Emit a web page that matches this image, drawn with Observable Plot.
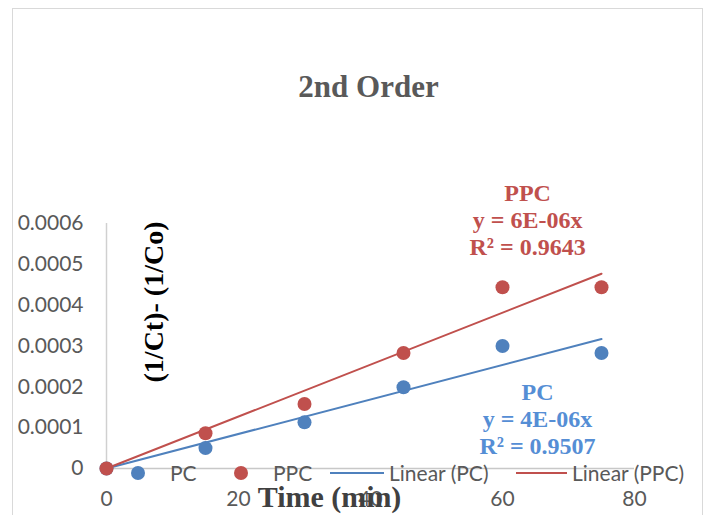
<!DOCTYPE html>
<html>
<head>
<meta charset="utf-8">
<script src="https://cdn.jsdelivr.net/npm/d3@7"></script>
<script src="https://cdn.jsdelivr.net/npm/@observablehq/plot@0.6"></script>
<style>
html, body { margin: 0; padding: 0; background: #fff; overflow: hidden; }
#wrap { position: relative; width: 708px; height: 515px; overflow: hidden; }
#border { position: absolute; left: 12px; top: 8px; width: 691px; height: 600px; border: 1.5px solid #d9d9d9; box-sizing: border-box; pointer-events: none; }
#chart { position: absolute; left: 0; top: 0; }
.leg { position: absolute; font-family: Lato, "Open Sans", sans-serif; font-size: 21px; color: #595959; line-height: 21px; white-space: nowrap; }
.dot { position: absolute; width: 14px; height: 14px; border-radius: 50%; }
.ln { position: absolute; height: 2px; }
</style>
</head>
<body>
<div id="wrap"><div id="border"></div><div id="chart"></div></div>
<script>
// ---- data ----
const times = [0, 15, 30, 45, 60, 75];
const pcValues = [0, 0.00005, 0.000113, 0.000199, 0.0003, 0.000283];
const ppcValues = [0, 0.0000865, 0.000158, 0.000283, 0.000444, 0.000444];
const seriesNames = ["PC", "PPC"];
const seriesColors = ["#4F81BD", "#C0504D"];
const labelColors = ["#558ED5", "#C0504D"];
const xTicks = [0, 20, 40, 60, 80];
const yTicks = [0, 0.0001, 0.0002, 0.0003, 0.0004, 0.0005, 0.0006];
const titleText = "2nd Order";
const xLabel = "Time (min)";
const yLabel = "(1/Ct)- (1/Co)";
const equations = ["y = 4E-06x", "y = 6E-06x"];
const rSquared = ["R² = 0.9507", "R² = 0.9643"];
const legendLabels = ["PC", "PPC", "Linear (PC)", "Linear (PPC)"];

// ---- derived tables ----
const seriesValues = [pcValues, ppcValues];
const points = seriesNames.flatMap((s, k) => times.map((t, i) => ({series: s, time: t, value: seriesValues[k][i]})));
const slope = vals => d3.sum(times, (t, i) => t * vals[i]) / d3.sum(times, t => t * t);
const tMax = d3.max(times);
const trend = seriesNames.flatMap((s, k) => {
  const b = slope(seriesValues[k]);
  return [{series: s, time: 0, value: 0}, {series: s, time: tMax, value: b * tMax}];
});
const annotations = [
  {series: "PC", text: `PC\n${equations[0]}\n${rSquared[0]}`, time: 65.3, value: 0.000122},
  {series: "PPC", text: `PPC\n${equations[1]}\n${rSquared[1]}`, time: 63.8, value: 0.000609}
];

const serif = "'Liberation Serif', 'DejaVu Serif', serif";

const plot = Plot.plot({
  width: 708,
  height: 515,
  marginLeft: 106,
  marginRight: 74,
  marginTop: 223,
  marginBottom: 47,
  style: {fontFamily: "Lato, 'Open Sans', sans-serif", fontSize: "21px", color: "#595959", background: "transparent", overflow: "visible"},
  x: {domain: [0, 80]},
  y: {domain: [0, 0.0006]},
  color: {domain: seriesNames, range: seriesColors},
  marks: [
    Plot.ruleX([0], {y1: 0, y2: 0.0006, stroke: "#d0d0d0", strokeWidth: 1.5}),
    Plot.ruleY([0], {x1: 0, x2: 80, stroke: "#c8c8c8", strokeWidth: 1.5}),
    Plot.axisY(yTicks, {tickSize: 0, tickPadding: 23, fontSize: 21, color: "#595959", label: null,
      tickFormat: d => d === 0 ? "0" : d.toFixed(4)}),
    Plot.axisX(xTicks, {tickSize: 0, tickPadding: 23, fontSize: 21, color: "#595959", label: null}),
    Plot.line(trend, {x: "time", y: "value", z: "series", stroke: "series", strokeWidth: 2}),
    Plot.dot(points, {x: "time", y: "value", fill: "series", r: 7}),
    Plot.text(annotations, {x: "time", y: "value", text: "text", fill: d => labelColors[seriesNames.indexOf(d.series)],
      fontFamily: serif, fontWeight: "bold", fontSize: 24, lineHeight: 1.125, lineAnchor: "middle", textAnchor: "middle"}),
    Plot.text([titleText], {frameAnchor: "top", dx: -2, dy: -136, fontFamily: serif, fontWeight: "bold", fontSize: 31, fill: "#595959", lineAnchor: "middle"}),
    Plot.text([yLabel], {frameAnchor: "left", dx: 48, dy: -44, rotate: -90, fontFamily: serif, fontWeight: "bold", fontSize: 28, fill: "#000", lineAnchor: "middle", textAnchor: "middle"}),
    Plot.text([xLabel], {frameAnchor: "bottom", dx: -41, dy: 29, fontFamily: serif, fontWeight: "bold", fontSize: 30, fill: "#404040", lineAnchor: "middle", textAnchor: "middle"})
  ]
});
document.getElementById("chart").appendChild(plot);

// ---- legend (Excel-style, overlapping the axis) ----
const wrap = document.getElementById("wrap");
const legY = 473;
function addDot(cx, color) {
  const d = document.createElement("div");
  d.className = "dot"; d.style.left = (cx - 7) + "px"; d.style.top = (legY - 7) + "px"; d.style.background = color;
  wrap.appendChild(d);
}
function addLine(x1, x2, color) {
  const d = document.createElement("div");
  d.className = "ln"; d.style.left = x1 + "px"; d.style.width = (x2 - x1) + "px"; d.style.top = (legY - 1) + "px"; d.style.background = color;
  wrap.appendChild(d);
}
function addText(x, t) {
  const d = document.createElement("div");
  d.className = "leg"; d.style.left = x + "px"; d.style.top = (legY - 11) + "px"; d.textContent = t;
  wrap.appendChild(d);
}
addDot(138, seriesColors[0]); addText(170, legendLabels[0]);
addDot(241, seriesColors[1]); addText(273, legendLabels[1]);
addLine(330, 384, seriesColors[0]); addText(389, legendLabels[2]);
addLine(516, 567, seriesColors[1]); addText(572, legendLabels[3]);
</script>
</body>
</html>
